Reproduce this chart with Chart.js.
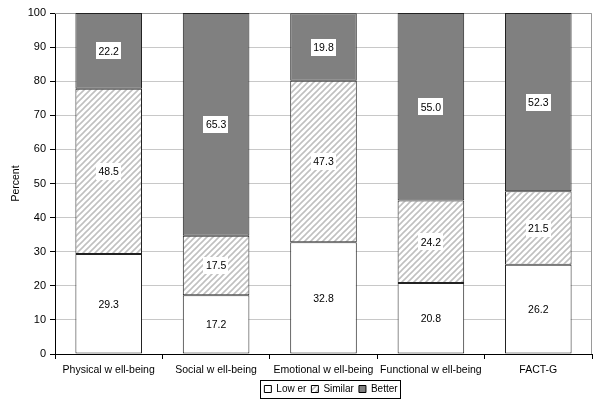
<!DOCTYPE html>
<html>
<head>
<meta charset="utf-8">
<script src="https://cdn.jsdelivr.net/npm/chart.js@4"></script>
<style>
  html, body { margin: 0; padding: 0; background: #fff; }
  #wrap { width: 600px; height: 406px; }
</style>
</head>
<body>
<div id="wrap"><canvas id="chart"></canvas></div>
<script>
const categories = ['Physical w ell-being', 'Social w ell-being', 'Emotional w ell-being', 'Functional w ell-being', 'FACT-G'];
const lowerValues = [29.3, 17.2, 32.8, 20.8, 26.2];
const similarValues = [48.5, 17.5, 47.3, 24.2, 21.5];
const betterValues = [22.2, 65.3, 19.8, 55.0, 52.3];
const seriesNames = ['Low er', 'Similar', 'Better'];

// diagonal hatch for the "Similar" segments
function makeHatch() {
    const c = document.createElement('canvas');
    c.width = 6;
    c.height = 6;
    const g = c.getContext('2d');
    g.fillStyle = '#fff';
    g.fillRect(0, 0, 6, 6);
    g.strokeStyle = '#c0c0c0';
    g.lineWidth = 1.6;
    g.beginPath();
    g.moveTo(0, 6); g.lineTo(6, 0);
    g.moveTo(-1, 1); g.lineTo(1, -1);
    g.moveTo(5, 7); g.lineTo(7, 5);
    g.stroke();
    return g.createPattern(c, 'repeat');
}
const hatch = makeHatch();

const fontFamily = '"Liberation Sans", Arial, sans-serif';
Chart.defaults.font.family = fontFamily;
Chart.defaults.font.size = 11;
Chart.defaults.color = '#000';

const boxLabels = {
    id: 'boxLabels',
    afterDatasetsDraw(chart) {
        const ctx = chart.ctx;
        ctx.save();
        ctx.font = '10.5px ' + fontFamily;
        ctx.textAlign = 'center';
        ctx.textBaseline = 'middle';
        chart.data.datasets.forEach((ds, i) => {
            chart.getDatasetMeta(i).data.forEach((bar, j) => {
                const txt = ds.data[j].toFixed(1);
                const w = ctx.measureText(txt).width + 5;
                const h = 17;
                const cy = (bar.y + bar.base) / 2;
                ctx.fillStyle = '#fff';
                ctx.fillRect(Math.round(bar.x - w / 2), Math.round(cy - h / 2), Math.round(w), h);
                ctx.fillStyle = '#000';
                ctx.fillText(txt, bar.x, cy + 1);
            });
        });
        ctx.restore();
    }
};

const frame = {
    id: 'frame',
    afterLayout(chart) {
        // Excel centres the legend under the plot, not the page
        chart.legend.left += 30;
        chart.legend.right += 30;
    },
    beforeDatasetsDraw(chart) {
        const a = chart.chartArea;
        const ctx = chart.ctx;
        ctx.save();
        ctx.strokeStyle = '#9a9a9a';
        ctx.lineWidth = 1;
        ctx.beginPath();
        ctx.moveTo(a.left, a.top + 0.5);
        ctx.lineTo(a.right - 0.5, a.top + 0.5);
        ctx.lineTo(a.right - 0.5, a.bottom);
        ctx.stroke();
        ctx.restore();
    },
    afterDraw(chart) {
        const boxes = chart.legend.legendHitBoxes;
        if (!boxes || !boxes.length) return;
        const left = Math.min(...boxes.map(b => b.left)) - 4;
        const right = Math.max(...boxes.map(b => b.left + b.width)) + 3;
        const top = boxes[0].top - 4;
        const bottom = boxes[0].top + boxes[0].height + 4;
        const ctx = chart.ctx;
        ctx.save();
        ctx.strokeStyle = '#000';
        ctx.lineWidth = 1;
        ctx.strokeRect(Math.round(left) + 0.5, Math.round(top) + 0.5, Math.round(right - left), Math.round(bottom - top));
        ctx.restore();
    }
};

new Chart(document.getElementById('chart'), {
    type: 'bar',
    data: {
        labels: categories,
        datasets: [
            { label: seriesNames[0], data: lowerValues, backgroundColor: '#ffffff' },
            { label: seriesNames[1], data: similarValues, backgroundColor: hatch },
            { label: seriesNames[2], data: betterValues, backgroundColor: '#808080' }
        ]
    },
    options: {
        responsive: true,
        maintainAspectRatio: false,
        animation: false,
        datasets: {
            bar: {
                borderColor: '#222',
                borderWidth: 1,
                borderSkipped: false,
                categoryPercentage: 1,
                barPercentage: 0.62
            }
        },
        layout: { padding: { left: 10, right: 8, top: 13, bottom: 2 } },
        scales: {
            x: {
                stacked: true,
                grid: { drawOnChartArea: false, tickLength: 5, color: '#000', offset: true },
                border: { color: '#000' },
                ticks: { maxRotation: 0, autoSkip: false, padding: 5, font: { size: 10.5 } },
                afterFit(scale) { scale.height = 25; }
            },
            y: {
                stacked: true,
                min: 0,
                max: 100,
                ticks: { stepSize: 10, padding: 4 },
                grid: { color: '#c8c8c8', tickColor: '#000', tickLength: 5 },
                border: { color: '#000' },
                title: { display: true, text: 'Percent', font: { size: 10.5 }, padding: { top: 0, bottom: 4 } },
                afterFit(scale) { scale.width = 45; }
            }
        },
        plugins: {
            legend: {
                position: 'bottom',
                labels: {
                    boxWidth: 7,
                    boxHeight: 7,
                    padding: 5,
                    font: { size: 10 },
                    generateLabels(chart) {
                        return chart.data.datasets.map((ds, i) => ({
                            text: ds.label,
                            fillStyle: ds.backgroundColor,
                            strokeStyle: '#000',
                            lineWidth: 1,
                            datasetIndex: i
                        }));
                    }
                }
            },
            tooltip: { enabled: false }
        }
    },
    plugins: [frame, boxLabels]
});
</script>
</body>
</html>
